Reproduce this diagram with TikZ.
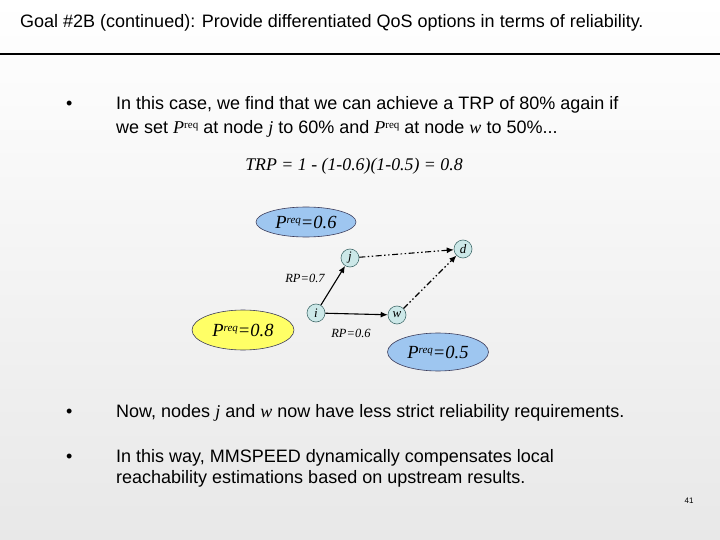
\documentclass[tikz,border=0pt]{standalone}
\usepackage{fontspec}
\setmainfont{Liberation Sans}
\newfontfamily\tms{Liberation Serif}
\usetikzlibrary{arrows.meta,shapes.geometric}
\definecolor{bluefill}{RGB}{158,198,240}
\definecolor{yellowfill}{RGB}{255,255,102}
\definecolor{nodefill}{RGB}{204,232,232}
\definecolor{nodeline}{RGB}{70,110,110}
\definecolor{ellline}{RGB}{60,60,90}
\newcommand\preqbody{{\tms\itshape P}{\fontsize{11}{11}\selectfont\raisebox{5pt}{\tms req}}}
\newcommand\preqell{{\tms\itshape P}{\fontsize{11}{11}\selectfont\raisebox{5pt}{req}}}
\tikzset{
  body/.style={anchor=base west, inner sep=0pt, font=\fontsize{18}{21}\selectfont},
  bullet/.style={anchor=base west, inner sep=0pt, font=\fontsize{18}{21}\selectfont},
  reqell/.style={ellipse, draw=ellline, line width=0.6pt, inner sep=0pt, font=\fontsize{18.5}{18.5}\selectfont\tms\itshape},
  smallnode/.style={circle, draw=nodeline, fill=nodefill, line width=0.6pt, minimum size=18pt, inner sep=0pt, font=\fontsize{13}{13}\selectfont\tms\itshape},
  rplabel/.style={inner sep=0pt, font=\fontsize{12.5}{12.5}\selectfont\tms\itshape},
  solidarrow/.style={line width=1.1pt, -{Latex[length=7pt,width=6pt]}},
  dotarrow/.style={line width=1.1pt, dash pattern=on 6pt off 2.5pt on 1.5pt off 2.5pt on 1.5pt off 2.5pt, -{Latex[length=7pt,width=6pt]}}
}
\begin{document}
\begin{tikzpicture}[x=1pt,y=-1pt]
\shade[top color=white,bottom color=black!9] (0,0) rectangle (720,540);
\useasboundingbox (0,0) rectangle (720,540);
\draw[line width=2pt] (0,54) -- (720,54);

\node[body] (title) at (20,28) {Goal \#2B (continued): Provide differentiated QoS options in terms of reliability.};

\node[bullet] (bu1) at (66,110) {•};
\node[body] (l1) at (116,110) {In this case, we find that we can achieve a TRP of 80\% again if};
\node[body] (l2) at (116,134) {we set \preqbody\ at node {\tms\itshape j} to 60\% and \preqbody\ at node {\tms\itshape w} to 50\%...};
\node[anchor=base, inner sep=0pt, font=\fontsize{17.8}{17.8}\selectfont\tms\itshape] (trp) at (354,171) {TRP = 1 - (1-0.6)(1-0.5) = 0.8};

\node[reqell, fill=bluefill, minimum width=100pt, minimum height=30pt] (e6) at (306,222) {\preqell=0.6};
\node[reqell, fill=yellowfill, minimum width=102pt, minimum height=40pt] (e8) at (243,330) {\preqell=0.8};
\node[reqell, fill=bluefill, minimum width=101pt, minimum height=38pt] (e5) at (438,352) {\preqell=0.5};

\node[smallnode] (j) at (350,258) {j};
\node[smallnode] (d) at (463,249) {d};
\node[smallnode] (i) at (316,313) {i};
\node[smallnode] (w) at (397,315) {w};

\draw[solidarrow] (i) -- (j);
\draw[solidarrow] (i) -- (w);
\draw[dotarrow] (j) -- (d);
\draw[dotarrow] (w) -- (d);

\node[rplabel] (rp7) at (305,278) {RP=0.7};
\node[rplabel] (rp6) at (351,333) {RP=0.6};

\node[bullet] (bu2) at (66,417) {•};
\node[body] (l3) at (116,417) {Now, nodes {\tms\itshape j} and {\tms\itshape w} now have less strict reliability requirements.};
\node[bullet] (bu3) at (66,462) {•};
\node[body] (l4) at (116,462) {In this way, MMSPEED dynamically compensates local};
\node[body] (l5) at (116,483) {reachability estimations based on upstream results.};

\node[anchor=base, inner sep=0pt, font=\fontsize{8}{8}\selectfont] (pg) at (689,503) {41};
\end{tikzpicture}
\end{document}
